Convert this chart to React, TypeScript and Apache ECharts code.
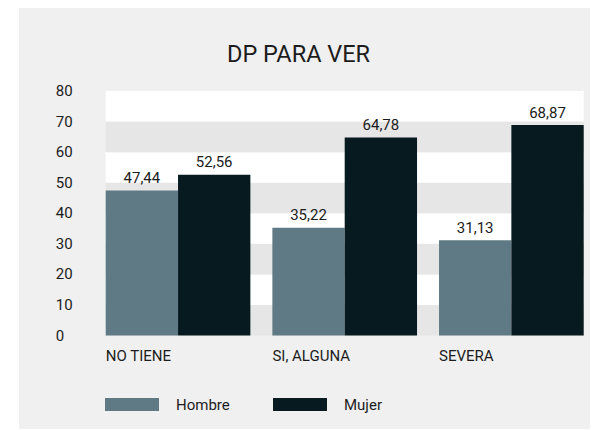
import React, { useEffect, useRef } from "react";
import * as echarts from "echarts";

const categories = ["NO TIENE", "SI, ALGUNA", "SEVERA"];
const hombre = [47.44, 35.22, 31.13];
const mujer = [52.56, 64.78, 68.87];
const seriesNames = ["Hombre", "Mujer"];
const titleText = "DP PARA VER";

const FONT = "Roboto, 'Noto Sans', sans-serif";
const TEXT = "#1c1c1c";

export default function App() {
  const ref = useRef<HTMLDivElement>(null);
  useEffect(() => {
    if (!ref.current) return;
    const chart = echarts.init(ref.current, undefined, { renderer: "svg" });
    const fmt = (p: any) => Number(p.value).toFixed(2).replace(".", ",");
    const legendBase = {
      top: 389,
      padding: 0,
      icon: "rect",
      itemWidth: 54,
      itemHeight: 13,
      textStyle: { fontFamily: FONT, fontSize: 15, color: TEXT, padding: [0, 0, 0, 12] },
    };
    const option: any = {
      animation: false,
      backgroundColor: "#f0f0f0",
      textStyle: { fontFamily: FONT },
      title: {
        text: titleText,
        left: 203,
        top: 29,
        textStyle: { fontFamily: FONT, fontSize: 23.5, fontWeight: "normal", color: TEXT },
      },
      legend: [
        { ...legendBase, data: [seriesNames[0]], left: 86 },
        { ...legendBase, data: [seriesNames[1]], left: 254 },
      ],
      grid: [
        { left: 86.7, right: 14.3, top: 83, bottom: 93.5 },
        { left: 75.7, right: 3.3, top: 83, bottom: 93.5 },
      ],
      xAxis: [
        { type: "category", gridIndex: 0, data: categories, show: false },
        {
          type: "category",
          gridIndex: 1,
          data: categories,
          axisLine: { show: false },
          axisTick: { show: false },
          axisLabel: {
            margin: 13,
            formatter: (v: string) => "{a|" + v + "}",
            rich: {
              a: { width: 144.6, align: "left", fontFamily: FONT, fontSize: 15, color: TEXT },
            },
          },
        },
      ],
      yAxis: [
        {
          type: "value",
          gridIndex: 0,
          min: 0,
          max: 80,
          interval: 10,
          axisLine: { show: false },
          axisTick: { show: false },
          splitLine: { show: false },
          splitArea: { show: true, areaStyle: { color: ["#e6e6e6", "#ffffff"] } },
          axisLabel: {
            align: "left",
            margin: 50,
            fontFamily: FONT,
            fontSize: 15,
            color: TEXT,
          },
        },
        {
          type: "value",
          gridIndex: 1,
          min: 0,
          max: 80,
          interval: 10,
          show: false,
          splitLine: { show: false },
        },
      ],
      series: [
        {
          name: seriesNames[0],
          type: "bar",
          xAxisIndex: 1,
          yAxisIndex: 1,
          data: hombre,
          barGap: "0%",
          barCategoryGap: "13.2%",
          itemStyle: { color: "#5f7a84" },
          label: {
            show: true,
            position: "top",
            distance: 5,
            formatter: fmt,
            fontFamily: FONT,
            fontSize: 15,
            color: TEXT,
          },
        },
        {
          name: seriesNames[1],
          type: "bar",
          xAxisIndex: 1,
          yAxisIndex: 1,
          data: mujer,
          barGap: "0%",
          barCategoryGap: "13.2%",
          itemStyle: { color: "#071a20" },
          label: {
            show: true,
            position: "top",
            distance: 5,
            formatter: fmt,
            fontFamily: FONT,
            fontSize: 15,
            color: TEXT,
          },
        },
      ],
    };
    chart.setOption(option);
    return () => chart.dispose();
  }, []);
  return <div ref={ref} style={{ width: 579, height: 421, marginLeft: 11 }} />;
}
